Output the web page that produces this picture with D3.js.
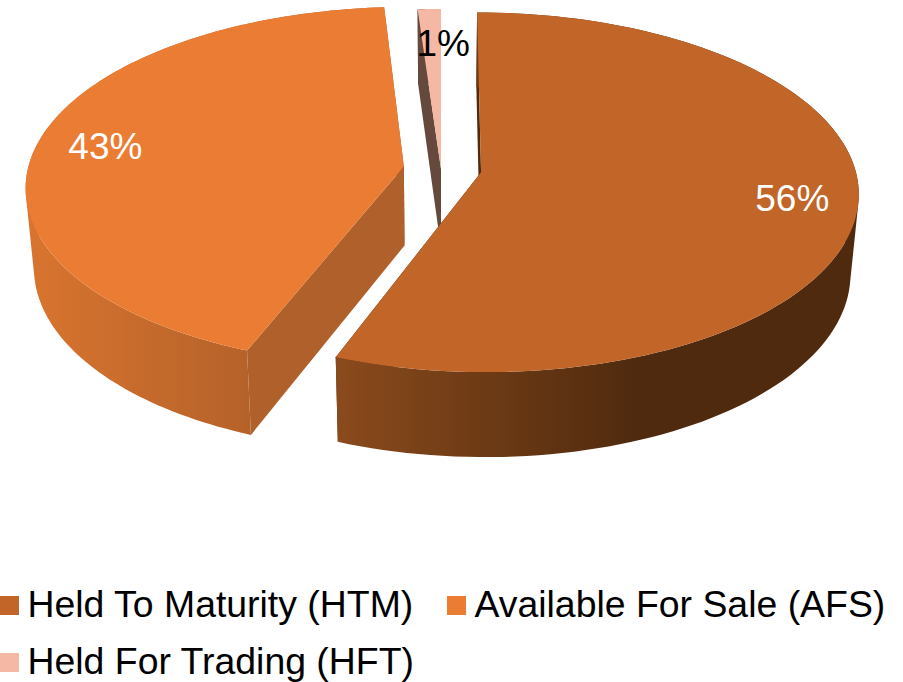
<!DOCTYPE html>
<html>
<head>
<meta charset="utf-8">
<style>
html,body{margin:0;padding:0;background:#fff;overflow:hidden}
svg{display:block}
text{font-family:"Liberation Sans",Arial,sans-serif}
</style>
<script src="https://cdnjs.cloudflare.com/ajax/libs/d3/7.8.5/d3.min.js"></script>
</head>
<body>
<script>
// ---- data ----
const categories = ["Held To Maturity (HTM)", "Available For Sale (AFS)", "Held For Trading (HFT)"];
const shares = [55.6, 43.3, 1.1];
const explodes = [0.108, 0.1, 0];

// ---- styling ----
const faceColors = ["#C16528", "#EA7D33", "#F4B8A5"];
const cutColors = ["#4F2A0E", "#B0602A", "#64493C"];
const wallStops = [
  [[0, "#8A4A1C"], [1, "#4F2A0E"]],
  [[0, "#D8742F"], [1, "#B5622A"]],
  [[0, "#64493C"], [1, "#64493C"]]
];
const wallRanges = [[337, 640], [30, 250], [416, 441]];
const labelColors = ["#fff", "#fff", "#000"];
const labelShift = [[3, 0], [2, 0], [12, 8]];
const sliceRadius = [0.995, 1, 1];
const startNudge = [0, 0.021, 0];
const endNudge = [0.015, 0, 0];

const W = 903, H = 682;
const cx = 441, cy = 169, R = 376, S = 177.8, k = 0.111, depth = 79, baseScale = 0.98;

const svg = d3.select("body").append("svg").attr("width", W).attr("height", H);
const defs = svg.append("defs");

const arcs = d3.pie().sort(null).value(d => d)(shares);

// Ground-plane point -> screen, with perspective; z = 0 top face, z = 1 base.
function project(u, v, z) {
  const w = 1 + k * v, s = z ? baseScale : 1;
  return [cx + s * R * u / w, cy - s * S * v / w + (z ? depth / w : 0)];
}
function ground(i, r, a) {
  const mid = (arcs[i].startAngle + arcs[i].endAngle) / 2, e = explodes[i];
  const rr = r * sliceRadius[i];
  return [e * Math.sin(mid) + rr * Math.sin(a), e * Math.cos(mid) + rr * Math.cos(a)];
}
const pt = (i, r, a, z) => { const g = ground(i, r, a); return project(g[0], g[1], z); };
const line = d3.line();
const startOf = i => arcs[i].startAngle + startNudge[i];
const endOf = i => arcs[i].endAngle + endNudge[i];

function ringAngles(i) {
  const a0 = startOf(i), a1 = endOf(i);
  return d3.range(0, 121).map(t => a0 + (a1 - a0) * t / 120);
}

arcs.forEach((a, i) => {
  const g = defs.append("linearGradient").attr("id", "wall" + i)
    .attr("gradientUnits", "userSpaceOnUse")
    .attr("x1", wallRanges[i][0]).attr("x2", wallRanges[i][1]).attr("y1", 0).attr("y2", 0);
  wallStops[i].forEach(s => g.append("stop").attr("offset", s[0]).attr("stop-color", s[1]));
});

// paint order: trading slice first, then the two large slices
[2, 1, 0].forEach(i => {
  const g = svg.append("g");
  const angles = ringAngles(i);
  // radial cut faces
  [startOf(i), endOf(i)].forEach(t => {
    g.append("path")
      .attr("d", line([pt(i, 0, t, 0), pt(i, 1, t, 0), pt(i, 1, t, 1), pt(i, 0, t, 1)]) + "Z")
      .attr("fill", cutColors[i]);
  });
  // outer wall, one path of many quads, all wound the same way
  let d = "";
  for (let n = 0; n < angles.length - 1; n++) {
    const quad = [pt(i, 1, angles[n], 0), pt(i, 1, angles[n + 1], 0),
                  pt(i, 1, angles[n + 1], 1), pt(i, 1, angles[n], 1)];
    if (d3.polygonArea(quad) < 0) quad.reverse();
    d += line(quad) + "Z";
  }
  g.append("path").attr("d", d).attr("fill", "url(#wall" + i + ")");
  // top face
  const face = [pt(i, 0, startOf(i), 0)].concat(angles.map(t => pt(i, 1, t, 0)));
  g.append("path").attr("d", line(face) + "Z").attr("fill", faceColors[i]);
});

// data labels
const pct = d3.format(".0%");
arcs.forEach((a, i) => {
  const p = pt(i, 0.82, (a.startAngle + a.endAngle) / 2, 0);
  svg.append("text")
    .attr("x", p[0] + labelShift[i][0]).attr("y", p[1] + labelShift[i][1])
    .attr("text-anchor", "middle").attr("dominant-baseline", "central")
    .attr("font-size", 37).attr("fill", labelColors[i])
    .text(pct(shares[i] / 100));
});

// legend
const legendX = [0, 447, 0], legendY = [617, 617, 674];
const legend = svg.append("g").selectAll("g").data(categories).join("g")
  .attr("transform", (d, i) => `translate(${legendX[i]},${legendY[i]})`);
legend.append("rect").attr("x", 0).attr("y", -21).attr("width", 19).attr("height", 19)
  .attr("fill", (d, i) => faceColors[i]);
legend.append("text").attr("x", 27.5).attr("y", 0).attr("font-size", 37.4).attr("fill", "#000").text(d => d);
</script>
</body>
</html>
